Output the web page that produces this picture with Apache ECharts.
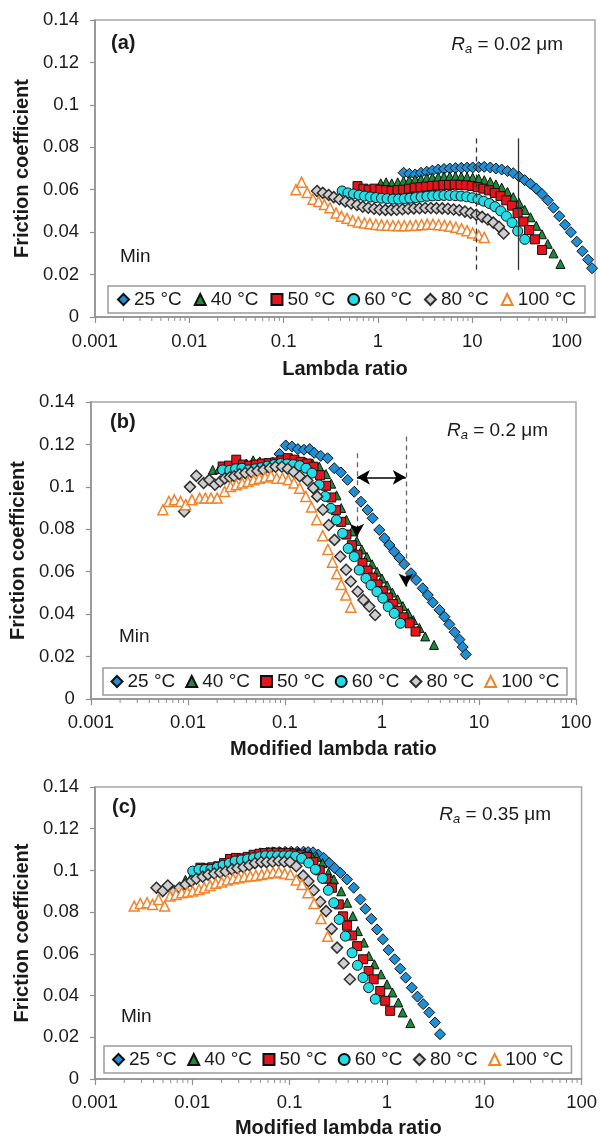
<!DOCTYPE html>
<html><head><meta charset="utf-8">
<script src="https://cdn.jsdelivr.net/npm/echarts@6/dist/echarts.min.js"></script>
<style>html,body{margin:0;padding:0;background:#fff}#c{width:600px;height:1139px}</style>
</head><body><div id="c"></div>
<script>
// ---------- data ----------
const seriesNames = ['25 °C','40 °C','50 °C','60 °C','80 °C','100 °C'];
const yTickStep = 0.02, yMax = 0.14, xMin = 0.001;
const xMaxA = 200, xMaxB = 100, xMaxC = 100;
const panelLabels = ['(a)','(b)','(c)'];
const raLabels = [' = 0.02 μm',' = 0.2 μm',' = 0.35 μm'];
const xTitles = ['Lambda ratio','Modified lambda ratio','Modified lambda ratio'];
const yTitle = 'Friction coefficient';
// minor tick positions of the log axes (2..9 of each decade)
const minorTickValues = [0.002,0.003,0.004,0.005,0.006,0.007,0.008,0.009,
  0.02,0.03,0.04,0.05,0.06,0.07,0.08,0.09, 0.2,0.3,0.4,0.5,0.6,0.7,0.8,0.9,
  2,3,4,5,6,7,8,9, 20,30,40,50,60,70,80,90];

// panel (a)
const a25 = [[1.87,0.068],[2.15,0.0675],[2.48,0.0672],[2.86,0.068],[3.29,0.0685],[3.78,0.069],[4.36,0.0695],[5.01,0.0698],[5.77,0.070],[6.64,0.0702],[7.64,0.0703],[8.8,0.0704],[10.1,0.0705],[11.7,0.0706],[13.4,0.0708],[15.5,0.0705],[17.8,0.070],[20.5,0.0695],[23.6,0.0688],[27.2,0.0678],[31.3,0.0662],[36,0.0645],[41.4,0.0628],[47.7,0.0605],[54.8,0.058],[63.1,0.055],[72.6,0.0515],[83.7,0.0475],[96.3,0.0435],[111,0.040],[128,0.0355],[147,0.031],[169,0.027],[186,0.023]];
const a40 = [[1.07,0.063],[1.22,0.0635],[1.40,0.063],[1.62,0.0635],[1.87,0.064],[2.15,0.0645],[2.48,0.0648],[2.86,0.065],[3.29,0.0655],[3.78,0.0658],[4.36,0.066],[5.01,0.0662],[5.77,0.0663],[6.64,0.0663],[7.64,0.0662],[8.8,0.066],[10.1,0.0657],[11.7,0.0652],[13.4,0.0645],[15.5,0.0637],[17.8,0.0625],[20.5,0.061],[23.6,0.059],[27.2,0.0565],[31.3,0.0538],[36,0.0505],[41.4,0.047],[47.7,0.043],[54.8,0.039],[63.1,0.0345],[72.6,0.030],[86,0.025]];
const a50 = [[0.607,0.0617],[0.70,0.0605],[0.80,0.060],[0.92,0.0605],[1.06,0.060],[1.22,0.0598],[1.40,0.0595],[1.61,0.0598],[1.85,0.060],[2.13,0.0605],[2.45,0.061],[2.82,0.0612],[3.24,0.0615],[3.73,0.0618],[4.29,0.062],[4.93,0.0622],[5.67,0.0623],[6.52,0.0624],[7.5,0.0623],[8.6,0.0621],[9.9,0.0618],[11.4,0.0612],[13.1,0.0605],[15.1,0.0597],[17.3,0.0585],[19.9,0.057],[22.9,0.055],[26.3,0.0525],[30.2,0.049],[34.8,0.045],[40,0.041],[46,0.0366],[55,0.0316]];
const a60 = [[0.417,0.0594],[0.48,0.0585],[0.55,0.058],[0.63,0.0575],[0.72,0.057],[0.83,0.0566],[0.95,0.0563],[1.09,0.056],[1.25,0.0558],[1.44,0.0556],[1.65,0.0556],[1.90,0.0558],[2.18,0.056],[2.50,0.0563],[2.87,0.0566],[3.30,0.0569],[3.79,0.0571],[4.35,0.0572],[5.0,0.0573],[5.74,0.0573],[6.6,0.0572],[7.6,0.057],[8.7,0.0567],[10,0.0562],[11.5,0.0555],[13.2,0.0546],[15.2,0.0535],[17.4,0.052],[20,0.050],[23,0.0475],[26.4,0.0445],[30.3,0.0405],[36,0.0366]];
const a80 = [[0.226,0.0594],[0.26,0.0585],[0.30,0.0575],[0.34,0.0565],[0.39,0.0555],[0.45,0.0545],[0.52,0.0535],[0.60,0.0528],[0.69,0.052],[0.79,0.0515],[0.91,0.051],[1.04,0.0507],[1.20,0.0505],[1.38,0.0505],[1.58,0.0506],[1.82,0.0508],[2.09,0.051],[2.40,0.0512],[2.76,0.0513],[3.17,0.0514],[3.64,0.0514],[4.18,0.0513],[4.80,0.0512],[5.52,0.051],[6.34,0.0507],[7.28,0.0503],[8.37,0.0497],[9.6,0.049],[11,0.0482],[12.7,0.0472],[14.6,0.046],[16.7,0.0445],[19.2,0.0425],[21.5,0.0394]];
const a100 = [[0.135,0.060],[0.155,0.0635],[0.178,0.0587],[0.205,0.0555],[0.235,0.0545],[0.27,0.053],[0.31,0.0515],[0.36,0.049],[0.41,0.0475],[0.47,0.0465],[0.54,0.0455],[0.62,0.0448],[0.72,0.0443],[0.82,0.044],[0.95,0.0436],[1.09,0.0434],[1.25,0.0432],[1.44,0.0431],[1.65,0.043],[1.9,0.043],[2.19,0.0431],[2.52,0.0433],[2.9,0.0435],[3.33,0.0437],[3.83,0.0437],[4.4,0.0435],[5.06,0.0432],[5.8,0.0428],[6.7,0.0423],[7.7,0.0416],[8.8,0.0407],[10.1,0.0396],[11.7,0.0385],[13.4,0.0375]];

// panel (b)
const b25 = [[0.088,0.1155],[0.102,0.1195],[0.118,0.119],[0.136,0.1178],[0.157,0.1175],[0.18,0.1178],[0.2,0.116],[0.234,0.1146],[0.275,0.1135],[0.322,0.1088],[0.377,0.1068],[0.442,0.1033],[0.518,0.0977],[0.607,0.093],[0.711,0.0891],[0.801,0.0852],[0.938,0.0797],[1.06,0.0758],[1.19,0.0726],[1.34,0.0695],[1.51,0.0665],[1.70,0.0635],[1.99,0.0593],[2.25,0.0561],[2.63,0.0522],[2.97,0.049],[3.34,0.0455],[3.91,0.042],[4.41,0.0388],[4.95,0.0352],[5.6,0.0315],[6.3,0.028],[6.8,0.0245],[7.3,0.021]];
const b40 = [[0.018,0.108],[0.021,0.1085],[0.025,0.109],[0.029,0.110],[0.034,0.1105],[0.040,0.111],[0.047,0.1125],[0.055,0.112],[0.064,0.1115],[0.075,0.1118],[0.088,0.112],[0.103,0.1125],[0.12,0.1125],[0.14,0.112],[0.165,0.1115],[0.193,0.111],[0.226,0.1095],[0.265,0.106],[0.3,0.1015],[0.34,0.096],[0.38,0.090],[0.43,0.0845],[0.49,0.079],[0.55,0.0745],[0.62,0.0705],[0.70,0.067],[0.79,0.0635],[0.89,0.060],[1.0,0.0568],[1.13,0.0535],[1.28,0.0502],[1.45,0.047],[1.64,0.0438],[1.86,0.0405],[2.1,0.0372],[2.43,0.0335],[2.79,0.0295],[3.44,0.0255]];
const b50 = [[0.0228,0.1096],[0.0265,0.110],[0.0315,0.1128],[0.037,0.1105],[0.043,0.110],[0.05,0.1105],[0.058,0.111],[0.068,0.1112],[0.079,0.1115],[0.092,0.1125],[0.107,0.1135],[0.125,0.1128],[0.145,0.1118],[0.17,0.111],[0.197,0.1095],[0.23,0.1055],[0.265,0.1005],[0.30,0.095],[0.335,0.089],[0.38,0.0835],[0.43,0.0775],[0.49,0.0725],[0.56,0.068],[0.63,0.064],[0.71,0.0605],[0.80,0.0572],[0.90,0.054],[1.02,0.0508],[1.15,0.0478],[1.30,0.0448],[1.47,0.0416],[1.67,0.0385],[1.93,0.0357],[2.22,0.0318]];
const b60 = [[0.0228,0.108],[0.027,0.1078],[0.031,0.1085],[0.036,0.1088],[0.042,0.108],[0.049,0.1085],[0.057,0.109],[0.066,0.1098],[0.077,0.1105],[0.09,0.111],[0.105,0.1108],[0.122,0.1105],[0.142,0.110],[0.165,0.1088],[0.19,0.1065],[0.225,0.1009],[0.26,0.0955],[0.297,0.0899],[0.34,0.0844],[0.393,0.0781],[0.449,0.071],[0.518,0.0671],[0.583,0.0608],[0.684,0.0569],[0.77,0.0537],[0.888,0.0506],[1.02,0.0475],[1.16,0.0435],[1.34,0.0404],[1.55,0.0357]];
const b80 = [[0.00914,0.0884],[0.0105,0.100],[0.0122,0.1052],[0.0145,0.1018],[0.0166,0.1033],[0.019,0.101],[0.0215,0.1025],[0.024,0.104],[0.027,0.1045],[0.030,0.105],[0.034,0.106],[0.039,0.1065],[0.045,0.107],[0.052,0.1075],[0.06,0.108],[0.07,0.1088],[0.08,0.1095],[0.093,0.1095],[0.107,0.1085],[0.123,0.107],[0.142,0.105],[0.17,0.103],[0.196,0.0994],[0.215,0.0955],[0.246,0.0892],[0.283,0.082],[0.324,0.075],[0.372,0.0672],[0.427,0.0609],[0.477,0.0554],[0.562,0.0507],[0.645,0.0467],[0.74,0.0436],[0.85,0.0396]];
const b100 = [[0.00553,0.0892],[0.00636,0.0931],[0.00725,0.0939],[0.0084,0.0931],[0.0095,0.0916],[0.011,0.0939],[0.0132,0.0947],[0.0151,0.0947],[0.0173,0.0947],[0.02,0.0947],[0.0239,0.0978],[0.0275,0.1002],[0.0315,0.101],[0.0362,0.1018],[0.0415,0.1025],[0.0476,0.1033],[0.0545,0.1041],[0.0626,0.1046],[0.0718,0.1052],[0.0822,0.1041],[0.0943,0.1041],[0.108,0.1033],[0.124,0.1018],[0.142,0.0994],[0.164,0.0955],[0.188,0.0905],[0.213,0.0845],[0.245,0.077],[0.277,0.0705],[0.309,0.0645],[0.342,0.059],[0.38,0.054],[0.424,0.049],[0.478,0.0433]];

// panel (c)
const c25 = [[0.05,0.1082],[0.058,0.1085],[0.067,0.1087],[0.078,0.1088],[0.09,0.1089],[0.104,0.109],[0.12,0.109],[0.139,0.109],[0.155,0.1088],[0.174,0.1087],[0.197,0.1076],[0.224,0.106],[0.255,0.1036],[0.29,0.1012],[0.333,0.0988],[0.389,0.0957],[0.456,0.0917],[0.533,0.0861],[0.60,0.0816],[0.691,0.0768],[0.79,0.0717],[0.908,0.067],[1.04,0.0618],[1.2,0.0574],[1.37,0.0529],[1.56,0.0486],[1.8,0.0438],[2.06,0.0395],[2.36,0.0359],[2.72,0.0319],[3.12,0.0271],[3.51,0.0215]];
const c40 = [[0.0085,0.0955],[0.0098,0.097],[0.0113,0.0985],[0.013,0.100],[0.015,0.1005],[0.0173,0.101],[0.02,0.1018],[0.023,0.1025],[0.0265,0.1035],[0.0305,0.1045],[0.035,0.1055],[0.04,0.1065],[0.046,0.1075],[0.053,0.1085],[0.061,0.109],[0.07,0.109],[0.081,0.109],[0.093,0.109],[0.107,0.109],[0.123,0.1088],[0.142,0.1085],[0.163,0.108],[0.19,0.1065],[0.218,0.1035],[0.25,0.0988],[0.285,0.0957],[0.339,0.090],[0.39,0.0845],[0.446,0.0781],[0.503,0.0709],[0.579,0.0654],[0.651,0.059],[0.744,0.055],[0.869,0.0502],[1.0,0.0454],[1.14,0.0415],[1.31,0.0367],[1.45,0.0319],[1.74,0.0268]];
const c50 = [[0.0121,0.1013],[0.0139,0.101],[0.016,0.1015],[0.0184,0.102],[0.0212,0.1035],[0.0244,0.1055],[0.028,0.106],[0.0322,0.1058],[0.037,0.1065],[0.0426,0.1075],[0.049,0.108],[0.056,0.1083],[0.065,0.1085],[0.074,0.1085],[0.086,0.1083],[0.098,0.1083],[0.113,0.108],[0.13,0.1075],[0.15,0.1065],[0.176,0.104],[0.204,0.100],[0.238,0.096],[0.272,0.0917],[0.32,0.0837],[0.354,0.078],[0.389,0.0735],[0.438,0.0688],[0.494,0.0637],[0.568,0.0574],[0.648,0.0518],[0.73,0.0478],[0.853,0.0422],[0.96,0.0375],[1.08,0.0327]];
const c60 = [[0.0101,0.0997],[0.0117,0.1005],[0.0135,0.1005],[0.0155,0.1005],[0.018,0.1015],[0.0207,0.1025],[0.024,0.1035],[0.0275,0.1045],[0.032,0.105],[0.037,0.1055],[0.0425,0.106],[0.049,0.1065],[0.0565,0.107],[0.065,0.107],[0.075,0.107],[0.087,0.107],[0.1,0.107],[0.115,0.1068],[0.133,0.1058],[0.157,0.1036],[0.184,0.1005],[0.218,0.0962],[0.25,0.0905],[0.284,0.0845],[0.323,0.0765],[0.374,0.0685],[0.438,0.0605],[0.498,0.0545],[0.568,0.0486],[0.648,0.0438],[0.759,0.0383]];
const c80 = [[0.00428,0.0917],[0.00497,0.0901],[0.0056,0.0928],[0.0065,0.090],[0.0074,0.0917],[0.0085,0.0933],[0.0098,0.0949],[0.011,0.096],[0.0128,0.097],[0.0145,0.098],[0.0168,0.0985],[0.0193,0.099],[0.022,0.0995],[0.0255,0.1005],[0.029,0.101],[0.0335,0.1015],[0.0385,0.1025],[0.044,0.1035],[0.051,0.104],[0.058,0.104],[0.067,0.1042],[0.077,0.1045],[0.088,0.1042],[0.101,0.104],[0.117,0.102],[0.138,0.0975],[0.156,0.0948],[0.177,0.0905],[0.206,0.085],[0.237,0.0805],[0.27,0.072],[0.307,0.063],[0.359,0.0555],[0.416,0.0478]];
const c100 = [[0.00253,0.0829],[0.00292,0.0842],[0.00343,0.0845],[0.0039,0.0837],[0.0045,0.0861],[0.0052,0.0829],[0.0059,0.0877],[0.0068,0.0885],[0.0078,0.0893],[0.0089,0.0896],[0.0101,0.0901],[0.0117,0.0909],[0.0133,0.0917],[0.0152,0.0928],[0.0174,0.0938],[0.02,0.0944],[0.0229,0.0954],[0.0263,0.096],[0.030,0.0965],[0.0343,0.097],[0.0394,0.0973],[0.045,0.0976],[0.0516,0.098],[0.059,0.0985],[0.0677,0.0989],[0.0775,0.0992],[0.0889,0.0985],[0.102,0.098],[0.117,0.0954],[0.134,0.0933],[0.154,0.0893],[0.178,0.0842],[0.21,0.0769],[0.246,0.0684]];

// reference lines / arrows
const aDashedX = 10.9, aSolidX = 31.0, aLineY = [0.0842, 0.0222];
const bLeftX = 0.552, bLeftY = [0.1158, 0.0765];
const bRightX = 1.76, bRightY = [0.1237, 0.053];
const bArrowY = 0.1045;

// ---------- layout / style ----------
const FONT = '"Liberation Sans", Arial, sans-serif';
const TXT = '#1a1a1a';
const AX = '#8f8f8f';
const panels = [
  {grid:{left:95, top:20, width:500, height:297}, xMax:xMaxA, data:[a25,a40,a50,a60,a80,a100],
   xGap:42, xMargin:15, yGap:63, legend:{left:108, top:286, gap:12, pad:[4,9]}, lab:[111,43], ra:[563,45], min:[120,257]},
  {grid:{left:90, top:402, width:486, height:297}, xMax:xMaxB, data:[b25,b40,b50,b60,b80,b100],
   xGap:40, xMargin:14, yGap:59, legend:{left:103, top:668, gap:10, pad:[4,7.5]}, lab:[110,422], ra:[548,431], min:[119,637]},
  {grid:{left:95, top:787, width:490, height:293}, xMax:xMaxC, data:[c25,c40,c50,c60,c80,c100],
   xGap:39, xMargin:14, yGap:62, legend:{left:104, top:1046, gap:10.5, pad:[4,8]}, lab:[112,807], ra:[551,815], min:[121,1017]}
];
const styles = [
  {symbol:'diamond', size:11, fill:'#1f8fd6', stroke:'#101010', bw:1},
  {symbol:'triangle', size:9, fill:'#1d8a3a', stroke:'#101010', bw:1},
  {symbol:'rect', size:9, fill:'#e8141c', stroke:'#101010', bw:1},
  {symbol:'circle', size:10, fill:'#22dde6', stroke:'#101010', bw:1},
  {symbol:'diamond', size:11, fill:'#cfcfcf', stroke:'#2e2e2e', bw:1.5},
  {symbol:'triangle', size:10, fill:'#ffffff', stroke:'#f0842c', bw:1.5}
];

const grid=[], xAxis=[], yAxis=[], series=[], legend=[], graphic=[];
panels.forEach((p,i)=>{
  grid.push(Object.assign({show:true, borderColor:'#a6a6a6', borderWidth:1.5, backgroundColor:'transparent'}, p.grid));
  xAxis.push({type:'log', logBase:10, gridIndex:i, min:xMin, max:p.xMax,
    axisLine:{show:true, lineStyle:{color:AX, width:1.5}},
    axisTick:{show:true, length:6, lineStyle:{color:AX, width:1.2}},
    minorTick:{show:false},
    axisLabel:{fontSize:18.5, color:TXT, margin:p.xMargin, fontFamily:FONT, showMaxLabel: i===0 ? false : true,
      formatter:v=>String(+Number(v).toPrecision(3))},
    splitLine:{show:false},
    name:xTitles[i], nameLocation:'middle', nameGap:p.xGap,
    nameTextStyle:{fontSize:20, fontWeight:'bold', color:TXT, fontFamily:FONT}});
  yAxis.push({type:'value', gridIndex:i, min:0, max:yMax, interval:yTickStep,
    axisLine:{show:true, lineStyle:{color:AX, width:1.5}},
    axisTick:{show:true, length:5, lineStyle:{color:AX, width:1.2}},
    axisLabel:{fontSize:18.5, color:TXT, margin:16, fontFamily:FONT, formatter:v=>String(+v.toFixed(2))},
    splitLine:{show:false},
    name:yTitle, nameLocation:'middle', nameGap:p.yGap,
    nameTextStyle:{fontSize:20, fontWeight:'bold', color:TXT, fontFamily:FONT}});
  // minor ticks drawn through the axis scale
  series.push({type:'custom', xAxisIndex:i, yAxisIndex:i, silent:true, clip:false, z:1,
    data:minorTickValues.filter(v=>v<p.xMax).map(v=>[v,0]),
    renderItem:(params, api)=>{
      const pt = api.coord([api.value(0), 0]);
      return {type:'line', shape:{x1:pt[0], y1:pt[1], x2:pt[0], y2:pt[1]+4},
        style:{stroke:AX, lineWidth:1}};
    }});
  p.data.forEach((d,k)=>{
    const s = styles[k];
    series.push({type:'scatter', name:seriesNames[k], xAxisIndex:i, yAxisIndex:i, data:d,
      symbol:s.symbol, symbolSize:s.size,
      itemStyle:{color:s.fill, borderColor:s.stroke, borderWidth:s.bw, opacity:1},
      emphasis:{disabled:true}, animation:false});
  });
  legend.push({data:seriesNames.map((n,k)=>({name:n, icon:styles[k].symbol})),
    left:p.legend.left, top:p.legend.top, orient:'horizontal',
    itemWidth:11, itemHeight:11, itemGap:p.legend.gap, padding:p.legend.pad,
    backgroundColor:'#fff', borderColor:'#9a9a9a', borderWidth:1.5, selectedMode:false,
    textStyle:{fontSize:19, color:TXT, fontFamily:FONT}});
  graphic.push({type:'text', x:p.lab[0], y:p.lab[1], z:10,
    style:{text:panelLabels[i], font:'bold 20px '+FONT, fill:TXT, textAlign:'left', textVerticalAlign:'middle'}});
  graphic.push({type:'text', x:p.ra[0], y:p.ra[1], z:10,
    style:{text:'{i|R}{s|a}{n|'+raLabels[i]+'}', fill:TXT, textAlign:'right', textVerticalAlign:'middle',
      rich:{i:{fontStyle:'italic', fontSize:19, fontFamily:FONT, fill:TXT},
            s:{fontStyle:'italic', fontSize:13, fontFamily:FONT, fill:TXT, padding:[9,0,0,0]},
            n:{fontSize:19, fontFamily:FONT, fill:TXT}}}});
  graphic.push({type:'text', x:p.min[0], y:p.min[1], z:10,
    style:{text:'Min', font:'19px '+FONT, fill:TXT, textAlign:'left', textVerticalAlign:'middle'}});
});

// reference lines in panel (a)
series.push({type:'scatter', xAxisIndex:0, yAxisIndex:0, data:[], silent:true,
  markLine:{silent:true, animation:false, symbol:['none','none'], label:{show:false},
    data:[
      [{coord:[aDashedX, aLineY[0]], lineStyle:{type:[5,4], color:'#333', width:1.3}}, {coord:[aDashedX, aLineY[1]]}],
      [{coord:[aSolidX, aLineY[0]], lineStyle:{type:'solid', color:'#333', width:1.3}}, {coord:[aSolidX, aLineY[1]]}]
    ]}});
// arrows in panel (b): gray dashed shafts with black heads, black double arrow
series.push({type:'scatter', xAxisIndex:1, yAxisIndex:1, data:[], silent:true,
  markLine:{silent:true, animation:false, label:{show:false}, symbolSize:[11,13],
    data:[
      [{coord:[bLeftX, bLeftY[0]], symbol:'none', lineStyle:{type:[5,4], color:'#666', width:1.3}}, {coord:[bLeftX, bLeftY[1]+0.004], symbol:'none'}],
      [{coord:[bLeftX, bLeftY[1]+0.005], symbol:'none', lineStyle:{type:'solid', color:'#000', width:1.3}}, {coord:[bLeftX, bLeftY[1]], symbol:'arrow'}],
      [{coord:[bRightX, bRightY[0]], symbol:'none', lineStyle:{type:[5,4], color:'#666', width:1.3}}, {coord:[bRightX, bRightY[1]+0.004], symbol:'none'}],
      [{coord:[bRightX, bRightY[1]+0.005], symbol:'none', lineStyle:{type:'solid', color:'#000', width:1.3}}, {coord:[bRightX, bRightY[1]], symbol:'arrow'}],
      [{coord:[bLeftX, bArrowY], symbol:'arrow', lineStyle:{type:'solid', color:'#000', width:1.5}}, {coord:[bRightX, bArrowY], symbol:'arrow'}]
    ]}});

const chart = echarts.init(document.getElementById('c'), null, {renderer:'canvas'});
chart.setOption({animation:false, textStyle:{fontFamily:FONT}, grid, xAxis, yAxis, series, legend, graphic});
</script>
</body></html>
